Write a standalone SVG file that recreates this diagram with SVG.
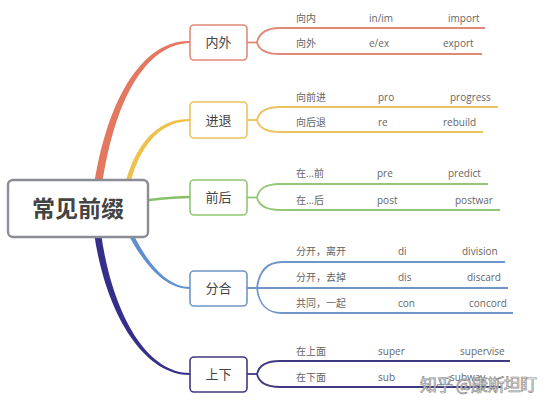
<svg xmlns="http://www.w3.org/2000/svg" width="554" height="408" viewBox="0 0 554 408">
<style>
.node{fill:#fff;stroke-width:1.6}
.nt{font-family:"Noto Sans CJK SC","Noto Sans",sans-serif;font-size:13px;fill:#444;text-anchor:middle}
.lf{font-family:"Open Sans","Noto Sans CJK SC",sans-serif;font-size:10px;fill:#666}
.br{fill:none;stroke-width:1.8}
.red{stroke:#df8a78}.yel{stroke:#ebc35e}.grn{stroke:#93c676}.blu{stroke:#6f96c6}.nav{stroke:#3f3a80}
</style>
<rect width="554" height="408" fill="#fff"/>
<g id="connectors">
<path d="M91 210 C101 109 139 39.5 190 41 L190 43 C141 44.5 109 111 99 210 Z" fill="#e4775f"/>
<path d="M119.5 215 C125.5 159 149 118 190 119 L190 121 C151 122 130.5 161 124.5 215 Z" fill="#efc14c"/>
<path d="M130 202 C160 199 170 197 190 197" fill="none" stroke="#86c167" stroke-width="2.6"/>
<path d="M120.3 204.1 C137 249 161 287 190 287 L190 289 C159 289 133 251 115.7 205.9 Z" fill="#5f8fcf"/>
<path d="M98.5 210 C105.5 299 141 372.8 190 373 L190 375 C139 375.2 98.5 301 91.5 210 Z" fill="#352f8a"/>
<g class="br red">
<path d="M247 42.5 H257"/>
<path d="M257 42.5 C259 33 266 28 280 28 H485"/>
<path d="M257 42.5 C259 50 266 54 280 54 H482"/>
</g>
<g class="br yel">
<path d="M247 120 H257"/>
<path d="M257 120 C259 111 266 107 280 107 H498"/>
<path d="M257 120 C259 128 266 132 280 132 H483"/>
</g>
<g class="br grn">
<path d="M247 197.5 H257"/>
<path d="M257 197.5 C259 188 266 184 280 184 H488"/>
<path d="M257 197.5 C259 206 266 210 280 210 H500"/>
</g>
<g class="br blu">
<path d="M247 288 H508"/>
<path d="M257 288 C259 272 266 262 282 262 H505"/>
<path d="M257 288 C259 304 266 313 282 313 H513"/>
</g>
<g class="br nav">
<path d="M247 374 H257"/>
<path d="M257 374 C259 365 266 361 280 361 H510"/>
<path d="M257 374 C259 383 266 387 280 387 H502"/>
</g>
</g>
<g id="root">
<rect x="8" y="180" width="140" height="57" rx="5" fill="#fff" stroke="#8a8d93" stroke-width="2.4"/>
<text x="78" y="217" font-family="'Noto Sans CJK SC',sans-serif" font-size="23" font-weight="bold" fill="#444" text-anchor="middle">常见前缀</text>
</g>
<g id="n-neiwai">
<rect class="node red" x="190" y="25" width="57" height="35" rx="4"/>
<text class="nt" x="218.5" y="47">内外</text>
<text class="lf" x="296" y="21.5">向内</text><text class="lf" x="369" y="21.5">in/im</text><text class="lf" x="448" y="21.5">import</text>
<text class="lf" x="296" y="47">向外</text><text class="lf" x="369" y="47">e/ex</text><text class="lf" x="443" y="47">export</text>
</g>
<g id="n-jintui">
<rect class="node yel" x="190" y="102" width="57" height="36" rx="4"/>
<text class="nt" x="218.5" y="124.5">进退</text>
<text class="lf" x="296" y="100.5">向前进</text><text class="lf" x="378" y="100.5">pro</text><text class="lf" x="450" y="100.5">progress</text>
<text class="lf" x="296" y="125.5">向后退</text><text class="lf" x="378" y="125.5">re</text><text class="lf" x="443" y="125.5">rebuild</text>
</g>
<g id="n-qianhou">
<rect class="node grn" x="190" y="180" width="57" height="35" rx="4"/>
<text class="nt" x="218.5" y="202">前后</text>
<text class="lf" x="296" y="176.5">在...前</text><text class="lf" x="377" y="176.5">pre</text><text class="lf" x="448" y="176.5">predict</text>
<text class="lf" x="296" y="203.5">在...后</text><text class="lf" x="377" y="203.5">post</text><text class="lf" x="455" y="203.5">postwar</text>
</g>
<g id="n-fenhe">
<rect class="node blu" x="190" y="271" width="57" height="35" rx="4"/>
<text class="nt" x="218.5" y="293">分合</text>
<text class="lf" x="296" y="254.5">分开，离开</text><text class="lf" x="398" y="254.5">di</text><text class="lf" x="462" y="254.5">division</text>
<text class="lf" x="296" y="280.5">分开，去掉</text><text class="lf" x="398" y="280.5">dis</text><text class="lf" x="467" y="280.5">discard</text>
<text class="lf" x="296" y="306.5">共同，一起</text><text class="lf" x="398" y="306.5">con</text><text class="lf" x="469" y="306.5">concord</text>
</g>
<g id="n-shangxia">
<rect class="node nav" x="190" y="357" width="57" height="35" rx="4"/>
<text class="nt" x="218.5" y="379">上下</text>
<text class="lf" x="296" y="354.5">在上面</text><text class="lf" x="378" y="354.5">super</text><text class="lf" x="460" y="354.5">supervise</text>
<text class="lf" x="296" y="380.5">在下面</text><text class="lf" x="378" y="380.5">sub</text><text class="lf" x="450" y="380.5">subway</text>
</g>
<text x="420" y="391" font-family="'Noto Sans CJK SC',sans-serif" font-size="17" fill="#fff" fill-opacity="0.85" stroke="#8a8a8a" stroke-width="0.7" textLength="117">知乎 @康斯坦盯</text>
</svg>
